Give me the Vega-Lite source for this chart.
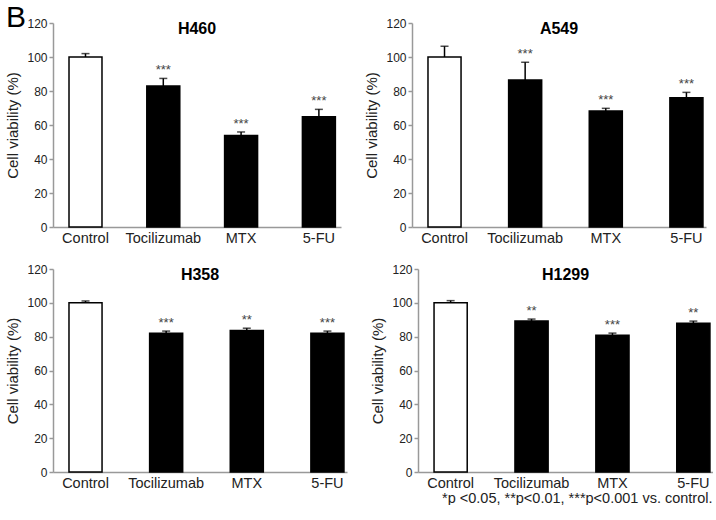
{
  "$schema": "https://vega.github.io/schema/vega-lite/v6.json",
  "padding": {"left": 5, "top": 3, "right": 0, "bottom": 0},
  "title": {"text": "B", "anchor": "start", "fontSize": 30, "fontWeight": "normal", "font": "Liberation Sans", "color": "black", "baseline": "alphabetic", "offset": -40},
  "config": {
    "font": "Liberation Sans",
    "view": {"stroke": null},
    "axis": {"grid": false, "domainColor": "#999999", "domainWidth": 1.5, "tickColor": "#999999", "tickWidth": 1.5, "labelColor": "#222222", "titleColor": "#222222", "titleFontWeight": "normal"},
    "axisY": {"titleFontSize": 15, "labelFontSize": 12, "tickCount": 6, "tickSize": 4, "labelPadding": 2, "titlePadding": 6, "labelOverlap": false},
    "axisX": {"labelAngle": 0, "labelFontSize": 14.5, "ticks": false, "labelPadding": 4},
    "title": {"fontSize": 16, "fontWeight": "bold", "color": "black", "baseline": "alphabetic", "offset": -20}
  },
  "datasets": {
    "viab": [
      {"cell": "H460", "group": "Control", "mean": 100, "upper": 102, "sig": ""},
      {"cell": "H460", "group": "Tocilizumab", "mean": 82.9, "upper": 87.4, "sig": "***"},
      {"cell": "H460", "group": "MTX", "mean": 53.8, "upper": 55.9, "sig": "***"},
      {"cell": "H460", "group": "5-FU", "mean": 64.9, "upper": 69.2, "sig": "***"},
      {"cell": "A549", "group": "Control", "mean": 100, "upper": 106.3, "sig": ""},
      {"cell": "A549", "group": "Tocilizumab", "mean": 86.5, "upper": 96.9, "sig": "***"},
      {"cell": "A549", "group": "MTX", "mean": 68.2, "upper": 69.8, "sig": "***"},
      {"cell": "A549", "group": "5-FU", "mean": 76.1, "upper": 79.2, "sig": "***"},
      {"cell": "H358", "group": "Control", "mean": 100, "upper": 101.1, "sig": ""},
      {"cell": "H358", "group": "Tocilizumab", "mean": 82, "upper": 83.3, "sig": "***"},
      {"cell": "H358", "group": "MTX", "mean": 83.7, "upper": 85, "sig": "**"},
      {"cell": "H358", "group": "5-FU", "mean": 82, "upper": 83.3, "sig": "***"},
      {"cell": "H1299", "group": "Control", "mean": 100, "upper": 101.3, "sig": ""},
      {"cell": "H1299", "group": "Tocilizumab", "mean": 89.2, "upper": 90.4, "sig": "**"},
      {"cell": "H1299", "group": "MTX", "mean": 80.8, "upper": 82.1, "sig": "***"},
      {"cell": "H1299", "group": "5-FU", "mean": 88, "upper": 89.2, "sig": "**"}
    ]
  },
  "vconcat": [
    {"hconcat": [
      {
        "width": 288, "height": 204,
        "data": {"name": "viab"},
        "transform": [{"filter": "datum.cell === 'H460'"}],
        "title": {"text": "H460"},
        "encoding": {"x": {"field": "group", "type": "nominal", "sort": ["Control", "Tocilizumab", "MTX", "5-FU"], "scale": {"paddingInner": 0.576, "paddingOuter": 0.139, "align": 0.74}, "axis": {"title": null}}},
        "layer": [
          {"mark": {"type": "bar", "stroke": "black", "strokeWidth": 1.5}, "encoding": {"y": {"field": "mean", "type": "quantitative", "title": "Cell viability (%)", "scale": {"domain": [0, 120], "nice": false}}, "fill": {"field": "group", "type": "nominal", "scale": {"domain": ["Control", "Tocilizumab", "MTX", "5-FU"], "range": ["white", "black", "black", "black"]}, "legend": null}}},
          {"mark": {"type": "rule", "color": "black", "strokeWidth": 1.5}, "encoding": {"y": {"field": "mean", "type": "quantitative", "title": "Cell viability (%)"}, "y2": {"field": "upper"}}},
          {"mark": {"type": "tick", "color": "black", "size": 8, "thickness": 1.5}, "encoding": {"y": {"field": "upper", "type": "quantitative", "title": "Cell viability (%)"}}},
          {"mark": {"type": "text", "fontSize": 13, "color": "#444444", "baseline": "alphabetic", "dy": -4}, "encoding": {"y": {"field": "upper", "type": "quantitative", "title": "Cell viability (%)"}, "text": {"field": "sig"}}}
        ]
      },
      {
        "width": 294, "height": 204,
        "data": {"name": "viab"},
        "transform": [{"filter": "datum.cell === 'A549'"}],
        "title": {"text": "A549"},
        "encoding": {"x": {"field": "group", "type": "nominal", "sort": ["Control", "Tocilizumab", "MTX", "5-FU"], "scale": {"paddingInner": 0.59, "paddingOuter": 0.118, "align": 0.84}, "axis": {"title": null}}},
        "layer": [
          {"mark": {"type": "bar", "stroke": "black", "strokeWidth": 1.5}, "encoding": {"y": {"field": "mean", "type": "quantitative", "title": "Cell viability (%)", "scale": {"domain": [0, 120], "nice": false}}, "fill": {"field": "group", "type": "nominal", "scale": {"domain": ["Control", "Tocilizumab", "MTX", "5-FU"], "range": ["white", "black", "black", "black"]}, "legend": null}}},
          {"mark": {"type": "rule", "color": "black", "strokeWidth": 1.5}, "encoding": {"y": {"field": "mean", "type": "quantitative", "title": "Cell viability (%)"}, "y2": {"field": "upper"}}},
          {"mark": {"type": "tick", "color": "black", "size": 8, "thickness": 1.5}, "encoding": {"y": {"field": "upper", "type": "quantitative", "title": "Cell viability (%)"}}},
          {"mark": {"type": "text", "fontSize": 13, "color": "#444444", "baseline": "alphabetic", "dy": -4}, "encoding": {"y": {"field": "upper", "type": "quantitative", "title": "Cell viability (%)"}, "text": {"field": "sig"}}}
        ]
      }
    ], "spacing": 23},
    {"hconcat": [
      {
        "width": 294, "height": 203,
        "data": {"name": "viab"},
        "transform": [{"filter": "datum.cell === 'H358'"}],
        "title": {"text": "H358"},
        "encoding": {"x": {"field": "group", "type": "nominal", "sort": ["Control", "Tocilizumab", "MTX", "5-FU"], "scale": {"paddingInner": 0.59, "paddingOuter": 0.118, "align": 0.84}, "axis": {"title": null}}},
        "layer": [
          {"mark": {"type": "bar", "stroke": "black", "strokeWidth": 1.5}, "encoding": {"y": {"field": "mean", "type": "quantitative", "title": "Cell viability (%)", "scale": {"domain": [0, 120], "nice": false}}, "fill": {"field": "group", "type": "nominal", "scale": {"domain": ["Control", "Tocilizumab", "MTX", "5-FU"], "range": ["white", "black", "black", "black"]}, "legend": null}}},
          {"mark": {"type": "rule", "color": "black", "strokeWidth": 1.5}, "encoding": {"y": {"field": "mean", "type": "quantitative", "title": "Cell viability (%)"}, "y2": {"field": "upper"}}},
          {"mark": {"type": "tick", "color": "black", "size": 8, "thickness": 1.5}, "encoding": {"y": {"field": "upper", "type": "quantitative", "title": "Cell viability (%)"}}},
          {"mark": {"type": "text", "fontSize": 13, "color": "#444444", "baseline": "alphabetic", "dy": -4}, "encoding": {"y": {"field": "upper", "type": "quantitative", "title": "Cell viability (%)"}, "text": {"field": "sig"}}}
        ]
      },
      {
        "width": 295, "height": 203,
        "data": {"name": "viab"},
        "transform": [{"filter": "datum.cell === 'H1299'"}],
        "title": {"text": "H1299"},
        "encoding": {"x": {"field": "group", "type": "nominal", "sort": ["Control", "Tocilizumab", "MTX", "5-FU"], "scale": {"paddingInner": 0.59, "paddingOuter": 0.118, "align": 0.84}, "axis": {"title": "*p <0.05, **p<0.01, ***p<0.001 vs. control.", "titleFontSize": 14.5, "titleAnchor": "end", "titleAlign": "right", "titleX": 294, "titlePadding": 2}}},
        "layer": [
          {"mark": {"type": "bar", "stroke": "black", "strokeWidth": 1.5}, "encoding": {"y": {"field": "mean", "type": "quantitative", "title": "Cell viability (%)", "scale": {"domain": [0, 120], "nice": false}}, "fill": {"field": "group", "type": "nominal", "scale": {"domain": ["Control", "Tocilizumab", "MTX", "5-FU"], "range": ["white", "black", "black", "black"]}, "legend": null}}},
          {"mark": {"type": "rule", "color": "black", "strokeWidth": 1.5}, "encoding": {"y": {"field": "mean", "type": "quantitative", "title": "Cell viability (%)"}, "y2": {"field": "upper"}}},
          {"mark": {"type": "tick", "color": "black", "size": 8, "thickness": 1.5}, "encoding": {"y": {"field": "upper", "type": "quantitative", "title": "Cell viability (%)"}}},
          {"mark": {"type": "text", "fontSize": 13, "color": "#444444", "baseline": "alphabetic", "dy": -4}, "encoding": {"y": {"field": "upper", "type": "quantitative", "title": "Cell viability (%)"}, "text": {"field": "sig"}}}
        ]
      }
    ], "spacing": 23}
  ],
  "spacing": 18
}
